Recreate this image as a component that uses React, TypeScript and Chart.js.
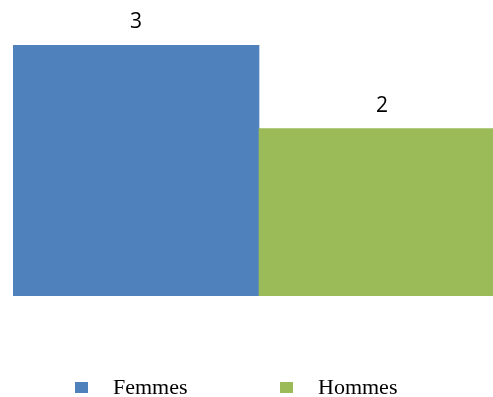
import React, { useEffect, useRef } from "react";
import { Chart, registerables } from "chart.js";

Chart.register(...registerables);

const categories = ["Femmes", "Hommes"];
const counts = [3, 2];
const colors = ["#4F81BD", "#9BBB59"];

// Value labels above each bar
const valueLabels = {
  id: "valueLabels",
  afterDatasetsDraw(chart: any) {
    const { ctx } = chart;
    const meta = chart.getDatasetMeta(0);
    ctx.save();
    ctx.fillStyle = "#000";
    ctx.font = '21px "Open Sans", sans-serif';
    ctx.textAlign = "center";
    ctx.textBaseline = "alphabetic";
    meta.data.forEach((bar: any, i: number) => {
      ctx.fillText(String(chart.data.datasets[0].data[i]), bar.x, bar.y - 17);
    });
    ctx.restore();
  },
};

// Legend row under the plot: square swatch followed by category name
const legendRow = {
  id: "legendRow",
  afterDraw(chart: any, _args: any, opts: any) {
    const { ctx } = chart;
    const labels: string[] = chart.data.labels;
    const bg: string[] = chart.data.datasets[0].backgroundColor;
    ctx.save();
    ctx.font = '22px "Liberation Serif", serif';
    ctx.textAlign = "left";
    ctx.textBaseline = "alphabetic";
    labels.forEach((label, i) => {
      const x = opts.startX + i * opts.step;
      ctx.fillStyle = bg[i];
      ctx.fillRect(x, opts.baseline - 12, 13, 11);
      ctx.fillStyle = "#000";
      ctx.fillText(label, x + opts.textGap, opts.baseline);
    });
    ctx.restore();
  },
};

export default function App() {
  const ref = useRef<HTMLCanvasElement>(null);

  useEffect(() => {
    document.body.style.margin = "0";
    const chart = new Chart(ref.current!, {
      type: "bar",
      data: {
        labels: categories,
        datasets: [
          {
            data: counts,
            backgroundColor: colors,
            borderWidth: 0,
            barPercentage: 1,
            categoryPercentage: 1,
          },
        ],
      },
      options: {
        animation: false,
        responsive: false,
        maintainAspectRatio: false,
        layout: { padding: { top: 45, left: 13, right: 0, bottom: 101 } },
        scales: {
          x: { display: false, offset: true },
          y: { display: false, min: 0, max: 3 },
        },
        plugins: {
          legend: { display: false },
          tooltip: { enabled: false },
          legendRow: { startX: 75, step: 205, textGap: 38, baseline: 394 },
        } as any,
      },
      plugins: [valueLabels, legendRow],
    });
    return () => chart.destroy();
  }, []);

  return (
    <div style={{ width: 493, height: 397, overflow: "hidden", background: "#fff" }}>
      <canvas ref={ref} width={505} height={397} style={{ display: "block" }} />
    </div>
  );
}
